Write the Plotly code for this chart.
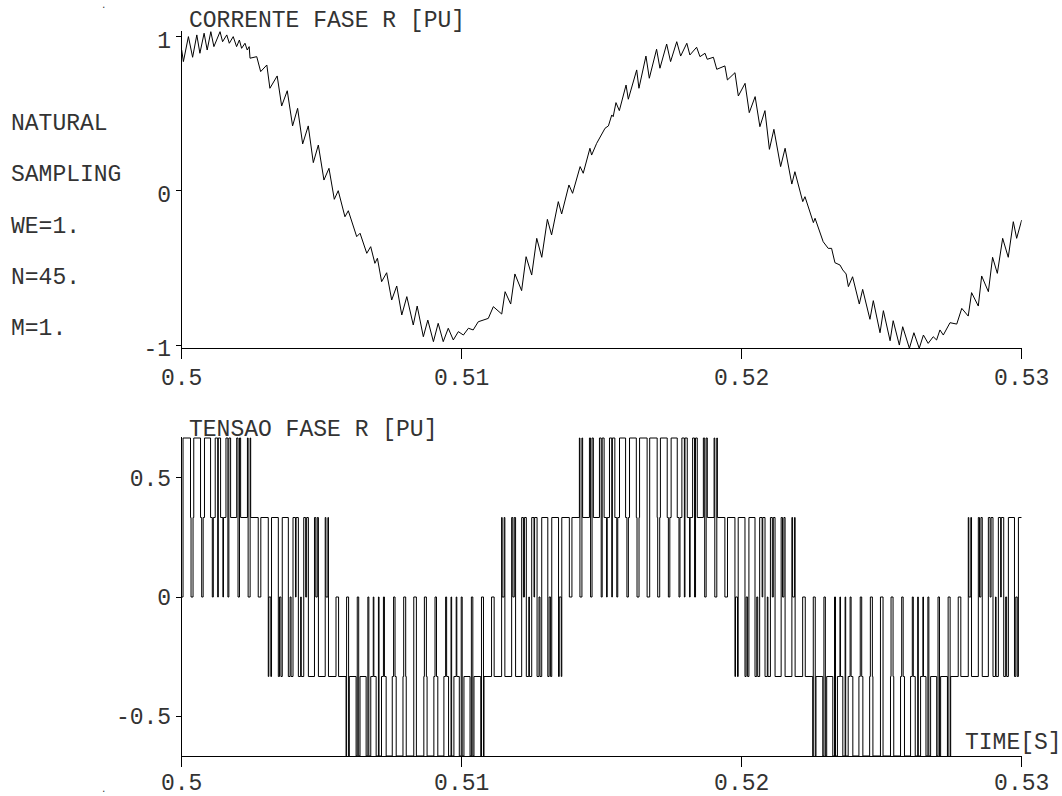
import plotly.graph_objects as go

# ---------------- top panel: phase R current [pu] ----------------
cur_t = [0.50000,0.50006,0.50024,0.50039,0.50054,0.50065,0.50080,0.50091,0.50104,0.50115,
         0.50137,0.50146,0.50161,0.50170,0.50184,0.50196,0.50206,0.50214,0.50226,0.50234,
         0.50241,0.50244,0.50268,0.50282,0.50304,0.50315,0.50341,0.50357,0.50377,0.50396,
         0.50414,0.50432,0.50452,0.50470,0.50488,0.50508,0.50526,0.50545,0.50559,0.50583,
         0.50595,0.50625,0.50637,0.50661,0.50675,0.50690,0.50699,0.50714,0.50732,0.50750,
         0.50768,0.50786,0.50804,0.50827,0.50841,0.50863,0.50879,0.50899,0.50916,0.50934,
         0.50952,0.50970,0.50988,0.51006,0.51024,0.51041,0.51059,0.51077,0.51095,0.51113,
         0.51143,0.51155,0.51175,0.51190,0.51214,0.51230,0.51250,0.51268,0.51286,0.51306,
         0.51321,0.51345,0.51357,0.51383,0.51396,0.51423,0.51434,0.51458,0.51464,0.51482,
         0.51500,0.51512,0.51524,0.51536,0.51541,0.51551,0.51563,0.51587,0.51595,0.51625,
         0.51633,0.51658,0.51670,0.51696,0.51708,0.51732,0.51746,0.51768,0.51782,0.51804,
         0.51815,0.51839,0.51851,0.51869,0.51877,0.51899,0.51911,0.51940,0.51949,0.51976,
         0.51988,0.52012,0.52027,0.52048,
         0.52065,0.52083,0.52099,0.52115,0.52139,0.52155,0.52179,0.52190,0.52218,0.52226,
         0.52256,0.52262,0.52291,0.52309,0.52321,0.52333,0.52351,0.52361,0.52373,0.52381,
         0.52396,0.52420,0.52432,0.52458,0.52470,0.52494,0.52506,0.52530,0.52541,0.52563,
         0.52575,0.52599,0.52615,0.52634,0.52649,0.52666,0.52684,0.52696,0.52708,0.52720,
         0.52744,0.52768,0.52786,0.52809,0.52821,0.52845,0.52857,0.52881,0.52896,0.52913,
         0.52932,0.52952,0.52970,0.52982,0.53000]
cur_i = [0.914,0.839,1.001,0.867,1.012,0.893,1.023,0.914,1.033,0.936,
         1.033,0.968,1.012,0.958,1.001,0.936,0.979,0.925,0.958,0.914,
         0.936,0.861,0.871,0.774,0.817,0.666,0.746,0.551,0.650,0.422,
         0.536,0.305,0.422,0.184,0.298,0.071,0.147,-0.054,0.002,-0.167,
         -0.128,-0.296,-0.274,-0.404,-0.361,-0.469,-0.436,-0.588,-0.530,-0.707,
         -0.616,-0.804,-0.685,-0.869,-0.746,-0.945,-0.837,-0.977,-0.858,-0.977,
         -0.890,-0.966,-0.912,-0.934,-0.890,-0.901,-0.848,-0.837,-0.826,-0.750,
         -0.798,-0.653,-0.733,-0.538,-0.646,-0.426,-0.545,-0.307,-0.430,-0.184,
         -0.285,-0.069,-0.149,0.039,-0.015,0.158,0.115,0.277,0.233,0.309,
         0.374,0.407,0.422,0.493,0.482,0.573,0.521,0.687,0.595,0.785,
         0.666,0.875,0.731,0.919,0.796,0.953,0.839,0.968,0.875,0.958,
         0.882,0.932,0.871,0.893,0.854,0.867,0.789,0.811,0.720,0.767,
         0.616,0.698,0.508,0.612,
         0.417,0.521,0.270,0.400,0.158,0.277,0.045,0.125,-0.069,-0.037,
         -0.205,-0.177,-0.329,-0.372,-0.372,-0.465,-0.480,-0.512,-0.538,-0.620,
         -0.556,-0.733,-0.638,-0.832,-0.711,-0.919,-0.776,-0.971,-0.841,-0.999,
         -0.880,-1.020,-0.919,-1.020,-0.934,-0.988,-0.945,-0.966,-0.901,-0.934,
         -0.854,-0.863,-0.761,-0.811,-0.659,-0.746,-0.551,-0.653,-0.430,-0.534,
         -0.307,-0.430,-0.199,-0.307,-0.188]

# ---------------- bottom panel: phase R voltage [pu] ----------------
# Inverter leg on-times around each carrier valley, as a fraction of half a carrier
# period, before and after the valley (one entry per carrier period, N=45 -> 2700 Hz).
CARRIER_HZ = 2700.0
T_START, T_END = 0.5, 0.53

a_on_before = [.999,.999,.989,.969,.940,.902,.856,.802,.741,.676,.607,.535,.463,.392,.323,
               .258,.198,.144,.097,.059,.031,.011,.001,.001,.011,.030,.058,.094,.137,.187,
               .242,.303,.366,.432,.499,.567,.633,.696,.757,.812,.862,.906,.942,.970,.989,
               .999,.999,.989,.969,.940,.902,.856,.802,.741,.676,.607,.535,.463,.392,.323,
               .258,.198,.144,.097,.059,.031,.011,.001,.001,.011,.030,.058,.094,.137,.187,
               .242,.303,.366,.432,.499,.567,.633]
a_on_after = [.999,.989,.970,.942,.906,.862,.812,.757,.696,.633,.567,.499,.432,.366,.303,
              .242,.187,.137,.094,.058,.030,.011,.001,.001,.011,.031,.059,.097,.144,.198,
              .258,.323,.392,.463,.535,.607,.676,.741,.802,.856,.902,.940,.969,.989,.999,
              .999,.989,.970,.942,.906,.862,.812,.757,.696,.633,.567,.499,.432,.366,.303,
              .242,.187,.137,.094,.058,.030,.011,.001,.001,.011,.031,.059,.097,.144,.198,
              .258,.323,.392,.463,.535,.607,.676]
b_on_before = [.242,.303,.366,.432,.499,.567,.633,.696,.757,.812,.862,.906,.942,.970,.989,
               .999,.999,.989,.969,.940,.902,.856,.802,.741,.676,.607,.535,.463,.392,.323,
               .258,.198,.144,.097,.059,.031,.011,.001,.001,.011,.030,.058,.094,.137,.187,
               .242,.303,.366,.432,.499,.567,.633,.696,.757,.812,.862,.906,.942,.970,.989,
               .999,.999,.989,.969,.940,.902,.856,.802,.741,.676,.607,.535,.463,.392,.323,
               .258,.198,.144,.097,.059,.031,.011]
b_on_after = [.258,.323,.392,.463,.535,.607,.676,.741,.802,.856,.902,.940,.969,.989,.999,
              .999,.989,.970,.942,.906,.862,.812,.757,.696,.633,.567,.499,.432,.366,.303,
              .242,.187,.137,.094,.058,.030,.011,.001,.001,.011,.031,.059,.097,.144,.198,
              .258,.323,.392,.463,.535,.607,.676,.741,.802,.856,.902,.940,.969,.989,.999,
              .999,.989,.970,.942,.906,.862,.812,.757,.696,.633,.567,.499,.432,.366,.303,
              .242,.187,.137,.094,.058,.030,.011]
c_on_before = [.258,.198,.144,.097,.059,.031,.011,.001,.001,.011,.030,.058,.094,.137,.187,
               .242,.303,.366,.432,.499,.567,.633,.696,.757,.812,.862,.906,.942,.970,.989,
               .999,.999,.989,.969,.940,.902,.856,.802,.741,.676,.607,.535,.463,.392,.323,
               .258,.198,.144,.097,.059,.031,.011,.001,.001,.011,.030,.058,.094,.137,.187,
               .242,.303,.366,.432,.499,.567,.633,.696,.757,.812,.862,.906,.942,.970,.989,
               .999,.999,.989,.969,.940,.902,.856]
c_on_after = [.242,.187,.137,.094,.058,.030,.011,.001,.001,.011,.031,.059,.097,.144,.198,
              .258,.323,.392,.463,.535,.607,.676,.741,.802,.856,.902,.940,.969,.989,.999,
              .999,.989,.970,.942,.906,.862,.812,.757,.696,.633,.567,.499,.432,.366,.303,
              .242,.187,.137,.094,.058,.030,.011,.001,.001,.011,.031,.059,.097,.144,.198,
              .258,.323,.392,.463,.535,.607,.676,.741,.802,.856,.902,.940,.969,.989,.999,
              .999,.989,.970,.942,.906,.862,.812]

# axes / text
x_ticks = [0.5, 0.51, 0.52, 0.53]
x_tick_text = ["0.5", "0.51", "0.52", "0.53"]
top_y_ticks, top_y_text = [-1, 0, 1], ["-1", "0", "1"]
bot_y_ticks, bot_y_text = [-0.5, 0, 0.5], ["-0.5", "0", "0.5"]
side_labels = ["NATURAL", "SAMPLING", "WE=1.", "N=45.", "M=1."]
top_title = "CORRENTE FASE R [PU]"
bot_title = "TENSAO FASE R [PU]"
x_title = "TIME[S]"

# ---------------- build the phase-voltage step table ----------------
T = 1.0 / CARRIER_HZ
H = T / 2.0
MIN_PULSE = 1.2e-5
K = min(len(a_on_before), len(a_on_after), len(b_on_before), len(b_on_after),
        len(c_on_before), len(c_on_after))
legs = [(a_on_before, a_on_after), (b_on_before, b_on_after), (c_on_before, c_on_after)]
events = []
for k in range(K):
    tk = T_START + k * T
    for li, (wb, wa) in enumerate(legs):
        events.append((tk - wb[k] * H, li, 1))
        events.append((tk + wa[k] * H, li, 0))
events.sort()


def level(s):
    return (2 * s[0] - s[1] - s[2]) / 3.0


state = [1, 1, 1]
segs = [[T_START, level(state)]]
for t, li, on in events:
    if t <= T_START or t >= T_END:
        continue
    state[li] = on
    v = level(state)
    if abs(v - segs[-1][1]) < 1e-9:
        continue
    if abs(t - segs[-1][0]) < 1e-12:
        segs[-1][1] = v
    else:
        segs.append([t, v])

clean = []
for i, (t, v) in enumerate(segs):
    t_next = segs[i + 1][0] if i + 1 < len(segs) else T_END
    if clean and t_next - t < MIN_PULSE:
        continue
    if clean and abs(clean[-1][1] - v) < 1e-9:
        continue
    clean.append([t, v])

volt_t = [s[0] for s in clean] + [T_END]
volt_v = [s[1] for s in clean] + [clean[-1][1]]

# ---------------- figure ----------------
W, Hpx = 1062, 796
FONT = "Liberation Mono"
FS = 23
INK = "#333333"


def px_x(x):
    return x / W


def px_y(y):
    return 1 - y / Hpx


fig = go.Figure()
fig.add_trace(go.Scatter(x=cur_t, y=cur_i, mode="lines",
                         line=dict(color="black", width=1), xaxis="x", yaxis="y",
                         hoverinfo="skip"))
fig.add_trace(go.Scatter(x=volt_t, y=volt_v, mode="lines", line_shape="hv",
                         line=dict(color="black", width=1), xaxis="x2", yaxis="y2",
                         hoverinfo="skip"))

x_dom = [px_x(181.7), px_x(1021.7)]
axis_common = dict(showline=True, linecolor="black", linewidth=1, showgrid=False,
                   zeroline=False, ticks="outside", tickcolor="black", tickwidth=1,
                   automargin=False,
                   tickfont=dict(family=FONT, size=FS, color=INK), fixedrange=True)

fig.update_layout(
    width=W, height=Hpx,
    autosize=False,
    margin=dict(l=0, r=0, t=0, b=0, pad=0, autoexpand=False),
    paper_bgcolor="white", plot_bgcolor="white",
    showlegend=False,
    xaxis=dict(domain=x_dom, range=[0.5, 0.53], anchor="y",
               tickvals=x_ticks, ticktext=x_tick_text, ticklen=10,
               ticklabelstandoff=-2, **axis_common),
    yaxis=dict(domain=[px_y(348.3), px_y(30.6)], range=[-1.02, 1.04], anchor="x",
               tickvals=top_y_ticks, ticktext=top_y_text, ticklen=5,
               ticklabelshift=3, **axis_common),
    xaxis2=dict(domain=x_dom, range=[0.5, 0.53], anchor="y2",
                tickvals=x_ticks, ticktext=x_tick_text, ticklen=10,
                ticklabelstandoff=-5, **axis_common),
    yaxis2=dict(domain=[px_y(756), px_y(437)], range=[-0.6667, 0.6709], anchor="x2",
                tickvals=bot_y_ticks, ticktext=bot_y_text, ticklen=5, **axis_common),
)

annos = []


def add_text(txt, x, y, xanchor="left", size=FS, yanchor="middle"):
    annos.append(dict(text=txt, x=px_x(x), y=px_y(y), xref="paper", yref="paper",
                      xanchor=xanchor, yanchor=yanchor, showarrow=False, borderpad=0,
                      font=dict(family=FONT, size=size, color=INK)))


add_text(top_title, 188, 21)
add_text(bot_title, 188, 430)
add_text(x_title, 964, 743)
for lbl, yy in zip(side_labels, [124, 175, 227, 278, 329]):
    add_text(lbl, 10, yy)
add_text(".", 103, 0, xanchor="center", size=9, yanchor="top")
add_text(".", 103, 796, xanchor="center", size=9, yanchor="bottom")
fig.update_layout(annotations=annos)

fig.write_html("out.html",
               config={"displayModeBar": False},
               post_script="document.body.style.margin='0px';"
                           "document.body.style.overflow='hidden';")
